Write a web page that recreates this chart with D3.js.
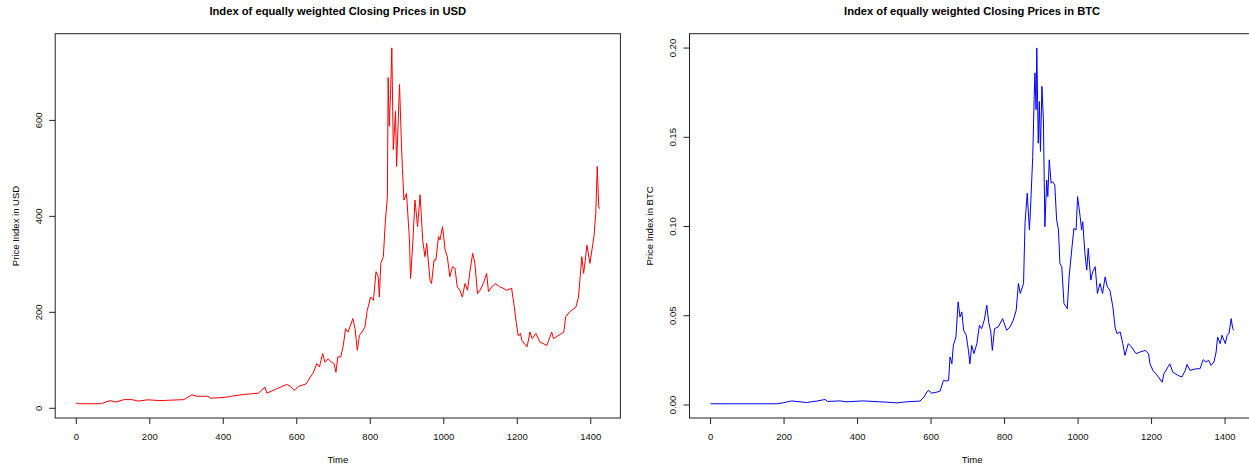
<!DOCTYPE html>
<html>
<head>
<meta charset="utf-8">
<script src="https://cdn.jsdelivr.net/npm/d3@7"></script>
<style>
  body { margin: 0; background: #fff; }
  svg { display: block; font-family: "Liberation Sans", Arial, sans-serif; }
</style>
</head>
<body>
<svg id="chart" width="1249" height="467"></svg>
<script>
// time index ticks shared by both panels
const xTicks = [0, 200, 400, 600, 800, 1000, 1200, 1400];
const usdTicks = [0, 200, 400, 600];
const btcTicks = [0, 0.05, 0.10, 0.15, 0.20];

// index in USD
const usdTime = [1, 8, 40, 70, 93, 109, 131, 153, 170, 196, 229, 294, 316, 330, 360, 366, 403, 420, 456, 497,
  515, 520, 547, 574, 585, 594, 606, 627, 638, 645, 656, 663, 672, 678, 687, 696, 703, 708, 713, 721,
  728, 734, 741, 754, 760, 766, 772, 779, 787, 793, 797, 802, 810, 817, 823, 826, 830, 837, 842, 848,
  850, 853, 857, 860, 864, 870, 873, 881, 886, 889, 893, 900, 908, 911, 917, 923, 930, 937, 944, 950,
  955, 959, 964, 968, 975, 980, 987, 991, 998, 1005, 1011, 1018, 1025, 1032, 1038, 1045, 1052, 1059, 1066, 1073,
  1080, 1086, 1093, 1100, 1109, 1118, 1123, 1132, 1141, 1154, 1163, 1172, 1186, 1192, 1199, 1204, 1210, 1214, 1228, 1236,
  1242, 1252, 1263, 1282, 1295, 1300, 1328, 1333, 1344, 1361, 1368, 1377, 1382, 1391, 1399, 1410, 1415, 1419, 1423, 1425];
const usdValue = [10, 8.5, 8.4, 8.6, 15, 12, 17, 17, 14, 16.7, 15, 17, 27, 24, 24, 20, 21.6, 23.6, 27.8, 30.5,
  43, 30.5, 39.6, 48.7, 44.5, 36, 44.5, 50, 64, 71, 92, 85, 113, 95, 102, 95, 92, 74, 106, 106,
  130, 165, 158, 186, 165, 120, 151, 158, 168.6, 203, 214, 231, 224, 283.6, 273, 231, 301, 315, 384.6, 440,
  688, 587, 667, 750, 538, 618, 503, 674, 552, 496, 433, 447, 350, 269.5, 343, 433, 377.7, 444, 350, 315,
  343, 308, 266, 259, 308, 308, 357, 350, 377.7, 329, 315, 273, 294, 290.6, 252, 245, 231, 259, 245, 287,
  322, 301, 238, 245, 259, 280, 242, 252, 259, 252, 249, 245, 249, 217, 175, 150, 155, 140, 127, 158,
  144, 155, 137, 130, 158, 144, 158, 189.5, 200, 210, 231, 315, 280, 339, 301, 357, 405.6, 503, 419.5, 415];

// index in BTC
const btcTime = [1, 181, 200, 222, 263, 290, 313, 320, 354, 370, 417, 481, 508, 535, 571, 582, 588, 594, 603, 617,
  626, 635, 642, 649, 653, 658, 662, 669, 675, 680, 685, 690, 697, 703, 707, 712, 718, 726, 733, 739,
  746, 753, 758, 764, 768, 774, 784, 796, 807, 816, 825, 833, 839, 844, 853, 857, 863, 869, 872, 878,
  882, 884, 887, 889, 893, 896, 899, 903, 907, 911, 916, 919, 923, 928, 932, 938, 943, 948, 952, 957,
  963, 969, 972, 977, 984, 990, 996, 1000, 1007, 1011, 1014, 1020, 1025, 1029, 1036, 1041, 1048, 1054, 1061, 1068,
  1075, 1081, 1088, 1096, 1102, 1107, 1116, 1123, 1129, 1138, 1147, 1159, 1170, 1184, 1193, 1197, 1205, 1213, 1220, 1230,
  1235, 1246, 1251, 1259, 1273, 1284, 1293, 1298, 1306, 1322, 1333, 1342, 1349, 1357, 1363, 1371, 1377, 1381, 1388, 1393,
  1402, 1407, 1412, 1418, 1422, 1425];
const btcValue = [0.0004, 0.0004, 0.001, 0.002, 0.0011, 0.0019, 0.0028, 0.0017, 0.002, 0.0015, 0.002, 0.0013, 0.0009, 0.0015, 0.0019, 0.0041, 0.0064, 0.0079, 0.0064, 0.0069,
  0.0075, 0.0135, 0.0131, 0.0135, 0.0266, 0.0228, 0.0331, 0.0378, 0.0575, 0.049, 0.0519, 0.0416, 0.0388, 0.0303, 0.0228, 0.0331, 0.0285, 0.0341, 0.0444, 0.0425,
  0.0472, 0.0556, 0.0463, 0.0406, 0.0303, 0.0425, 0.0434, 0.0481, 0.0416, 0.0434, 0.0472, 0.0528, 0.0678, 0.0622, 0.0678, 0.1015, 0.1184, 0.0978, 0.11, 0.139,
  0.1727, 0.1858, 0.1652, 0.1998, 0.1464, 0.1698, 0.1418, 0.1783, 0.1596, 0.0996, 0.1258, 0.1165, 0.1371, 0.124, 0.1249, 0.123, 0.1034, 0.0978, 0.079, 0.0772,
  0.0566, 0.0547, 0.0537, 0.0715, 0.0865, 0.0987, 0.0978, 0.1165, 0.1052, 0.0978, 0.1024, 0.0846, 0.0753, 0.0875, 0.0697, 0.0743, 0.0772, 0.0622, 0.0678, 0.0622,
  0.0715, 0.0659, 0.064, 0.0547, 0.0434, 0.0397, 0.0406, 0.0341, 0.0275, 0.0341, 0.0322, 0.0285, 0.0294, 0.0303, 0.0285, 0.0228, 0.0191, 0.0172, 0.0154, 0.0125,
  0.0172, 0.021, 0.0228, 0.0182, 0.0163, 0.0154, 0.0191, 0.0225, 0.0191, 0.02, 0.02, 0.0251, 0.0238, 0.0247, 0.0219, 0.0238, 0.0294, 0.0378, 0.0341, 0.0388,
  0.0341, 0.0388, 0.0397, 0.0481, 0.0425, 0.0416];

const svg = d3.select('#chart');

// R style axis limits: data range stretched by 4% each side
function rDomain(values) {
  let [lo, hi] = d3.extent(values),
    pad = (hi - lo) * 0.04;
  return [lo - pad, hi + pad];
}

function panel(opts) {
  let g = svg.append('g');
  let x = d3.scaleLinear().domain(rDomain(opts.time)).range([opts.left, opts.right]);
  let y = d3.scaleLinear().domain(rDomain(opts.value)).range([418, 33.7]);
  let mid = (opts.left + opts.right) / 2;

  let points = opts.time.map((t, i) => [t, opts.value[i]]);

  g.append('path')
    .datum(points)
    .attr('fill', 'none')
    .attr('stroke', opts.color)
    .attr('stroke-width', 1)
    .attr('d', d3.line().x(d => x(d[0])).y(d => y(d[1])));

  g.append('rect')
    .attr('x', opts.left)
    .attr('y', 33.7)
    .attr('width', opts.right - opts.left)
    .attr('height', 418 - 33.7)
    .attr('fill', 'none')
    .attr('stroke', '#222')
    .attr('stroke-width', 1);

  // bottom axis
  let xa = g.append('g').attr('transform', 'translate(0,418)')
    .call(d3.axisBottom(x).tickValues(xTicks).tickSize(6).tickFormat(d3.format('d')));
  xa.select('.domain').remove();
  xa.selectAll('line').attr('stroke', '#222');
  xa.selectAll('text').attr('font-size', 9.5).attr('fill', '#111').attr('dy', 0).attr('y', 21.5);

  // left axis, labels turned like R las=0
  let ya = g.append('g').attr('transform', `translate(${opts.left},0)`)
    .call(d3.axisLeft(y).tickValues(opts.ticks).tickSize(6).tickFormat(opts.fmt));
  ya.select('.domain').remove();
  ya.selectAll('line').attr('stroke', '#222');
  ya.selectAll('text')
    .attr('font-size', 9.5).attr('fill', '#111')
    .attr('x', null).attr('dy', null)
    .attr('text-anchor', 'middle')
    .attr('transform', function(d) { return `translate(${opts.labelX - opts.left},0) rotate(-90)`; })
    .attr('y', 0).attr('dy', '0.35em');

  g.append('text')
    .attr('x', mid).attr('y', 15)
    .attr('text-anchor', 'middle')
    .attr('font-size', 11.2)
    .attr('font-weight', 'bold')
    .text(opts.title);

  g.append('text')
    .attr('x', mid).attr('y', 462.5)
    .attr('text-anchor', 'middle')
    .attr('font-size', 9.5)
    .text('Time');

  g.append('text')
    .attr('transform', `translate(${opts.titleX},226) rotate(-90)`)
    .attr('text-anchor', 'middle')
    .attr('dy', '0.35em')
    .attr('font-size', 9.5)
    .text(opts.ylab);
}

panel({
  time: usdTime, value: usdValue, color: '#ff0000',
  left: 55.2, right: 620.4, labelX: 38.5, titleX: 15.2,
  ticks: usdTicks, fmt: d3.format('d'),
  title: 'Index of equally weighted Closing Prices in USD',
  ylab: 'Price Index in USD'
});

panel({
  time: btcTime, value: btcValue, color: '#0000ff',
  left: 689.5, right: 1254.7, labelX: 672.7, titleX: 649.2,
  ticks: btcTicks, fmt: d3.format('.2f'),
  title: 'Index of equally weighted Closing Prices in BTC',
  ylab: 'Price Index in BTC'
});
</script>
</body>
</html>
